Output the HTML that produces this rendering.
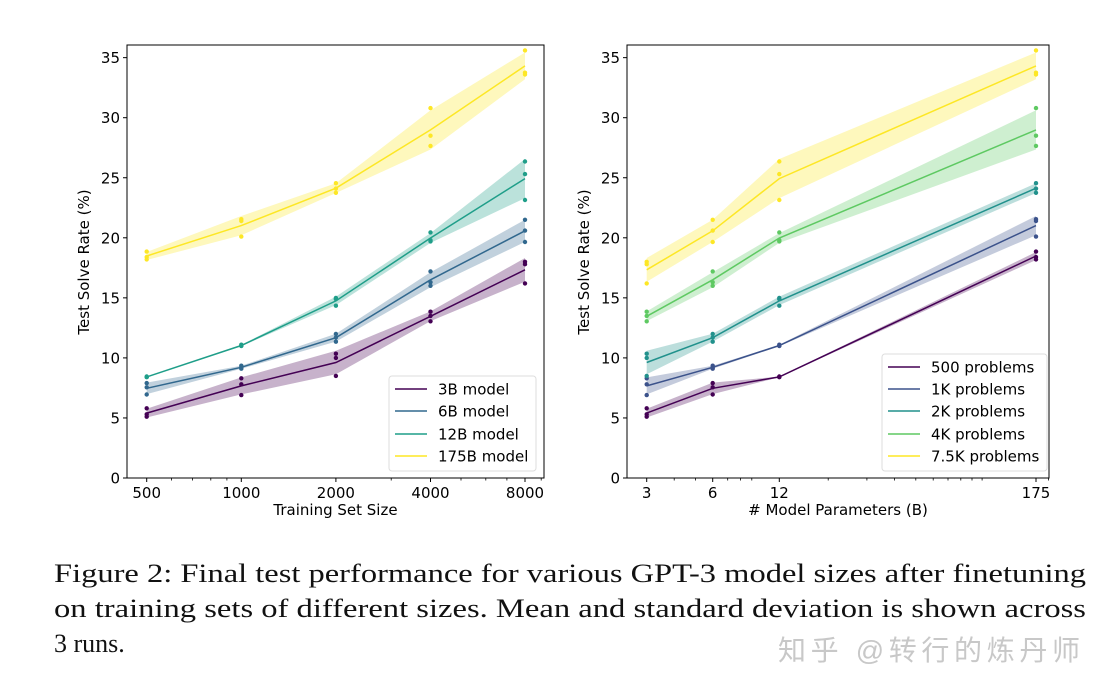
<!DOCTYPE html>
<html><head><meta charset="utf-8"><style>
html,body{margin:0;padding:0;background:#fff;}
svg{display:block;}
</style></head><body>
<svg id="s" width="1108" height="696" xmlns="http://www.w3.org/2000/svg" font-family="DejaVu Sans, Liberation Sans, sans-serif"></svg>
<script>
const S=document.getElementById('s');
let h='';
const Y=v=>478-v*12.01;
const L={
 names:['3B model','6B model','12B model','175B model'],
 cols:['#440154','#31688e','#1f9e89','#fde725'],
 pts:[
  [[5.8,5.3,5.1],[8.3,7.8,6.9],[10.35,10.0,8.5],[13.85,13.5,13.05],[18.0,17.8,16.2]],
  [[7.9,7.55,6.95],[9.35,9.2,9.1],[12.0,11.7,11.35],[17.2,16.3,16.0],[21.5,20.6,19.65]],
  [[8.45,8.4,8.4],[11.1,11.0,11.0],[15.0,14.9,14.35],[20.45,19.8,19.7],[26.35,25.3,23.15]],
  [[18.85,18.4,18.2],[21.55,21.4,20.1],[24.55,24.1,23.75],[30.8,28.5,27.65],[35.6,33.75,33.6]]
 ]};
const Lx=[146.7,241.3,335.9,430.5,525];
const Rx=[646.7,712.7,779.3,1036];
const Rnames=['500 problems','1K problems','2K problems','4K problems','7.5K problems'];
const Rcols=['#440154','#3b528b','#21918c','#5ec962','#fde725'];
function stat(a){const m=a.reduce((s,x)=>s+x,0)/a.length;const sd=Math.sqrt(a.reduce((s,x)=>s+(x-m)*(x-m),0)/(a.length-1));return [m,sd];}
function series(xs,pts,col){
  const st=pts.map(stat);
  let up=xs.map((x,i)=>x+','+Y(st[i][0]+st[i][1]).toFixed(1));
  let dn=xs.map((x,i)=>x+','+Y(st[i][0]-st[i][1]).toFixed(1)).reverse();
  h+=`<polygon points="${up.concat(dn).join(' ')}" fill="${col}" fill-opacity="0.3"/>`;
  h+=`<polyline points="${xs.map((x,i)=>x+','+Y(st[i][0]).toFixed(1)).join(' ')}" fill="none" stroke="${col}" stroke-width="1.5"/>`;
  pts.forEach((p,i)=>p.forEach(v=>{h+=`<circle cx="${xs[i]}" cy="${Y(v).toFixed(1)}" r="2.2" fill="${col}"/>`;}));
}
function axes(x0,x1,ticks,minor,xl){
  h+=`<rect x="${x0}" y="45" width="${x1-x0}" height="433" fill="none" stroke="#000" stroke-width="1"/>`;
  for(let v=0;v<=35;v+=5){const y=Y(v);h+=`<line x1="${x0-4}" y1="${y}" x2="${x0}" y2="${y}" stroke="#000"/><text x="${x0-7}" y="${y+5.5}" font-size="15" text-anchor="end">${v}</text>`;}
  ticks.forEach(([x,t])=>{h+=`<line x1="${x}" y1="478" x2="${x}" y2="482" stroke="#000"/><text x="${x}" y="498" font-size="15" text-anchor="middle">${t}</text>`;});
  minor.forEach(x=>{h+=`<line x1="${x}" y1="478" x2="${x}" y2="480.5" stroke="#000" stroke-width="0.8"/>`;});
  h+=`<text x="${(x0+x1)/2}" y="515" font-size="15" text-anchor="middle">${xl}</text>`;
  h+=`<text transform="translate(${x0-38},262) rotate(-90)" font-size="15" text-anchor="middle">Test Solve Rate (%)</text>`;
}
const lx=v=>146.7+Math.log2(v/500)*94.6;
axes(127,544,[[146.7,'500'],[241.3,'1000'],[335.9,'2000'],[430.5,'4000'],[525,'8000']],
 [600,700,800,900,3000,5000,6000,7000,9000].map(v=>lx(v).toFixed(1)),'Training Set Size');
L.pts.forEach((p,i)=>series(Lx,p,L.cols[i]));
const rx=v=>646.7+Math.log2(v/3)*66.3;
axes(627,1049,[[646.7,'3'],[712.7,'6'],[779.3,'12'],[1036,'175']],
 [4,5,7,8,9,20,30,40,50,60,70,80,90,100,200].map(v=>rx(v).toFixed(1)),'# Model Parameters (B)');
for(let k=0;k<5;k++){series(Rx,L.pts.map(s=>s[k]),Rcols[k]);}
function legend(x0,y0,w,hh,names,cols,lx0,tx,ys){
  h+=`<rect x="${x0}" y="${y0}" width="${w}" height="${hh}" rx="3" fill="#fff" fill-opacity="0.8" stroke="#ddd"/>`;
  names.forEach((n,i)=>{h+=`<line x1="${lx0}" y1="${ys[i]}" x2="${lx0+32}" y2="${ys[i]}" stroke="${cols[i]}" stroke-width="1.5"/><text x="${tx}" y="${ys[i]+5.5}" font-size="15">${n}</text>`;});
}
legend(389,376,147,95,L.names,L.cols,395,438,[389,411,434,456]);
legend(882,354,165,117,Rnames,Rcols,888,931,[367,389,411,434,456]);
h+=`<g font-family="Liberation Serif, serif" font-size="26" fill="#111">
<text x="54" y="582" textLength="1032" lengthAdjust="spacingAndGlyphs">Figure 2: Final test performance for various GPT-3 model sizes after finetuning</text>
<text x="54" y="617" textLength="1032" lengthAdjust="spacingAndGlyphs">on training sets of different sizes. Mean and standard deviation is shown across</text>
<text x="54" y="652">3 runs.</text></g>`;
h+=`<text x="778" y="660" font-size="28" fill="#c8c8c8" font-family="Liberation Sans, Noto Sans CJK SC, sans-serif" textLength="302">知乎 @转行的炼丹师</text>`;
S.innerHTML=h;
</script>
</body></html>
